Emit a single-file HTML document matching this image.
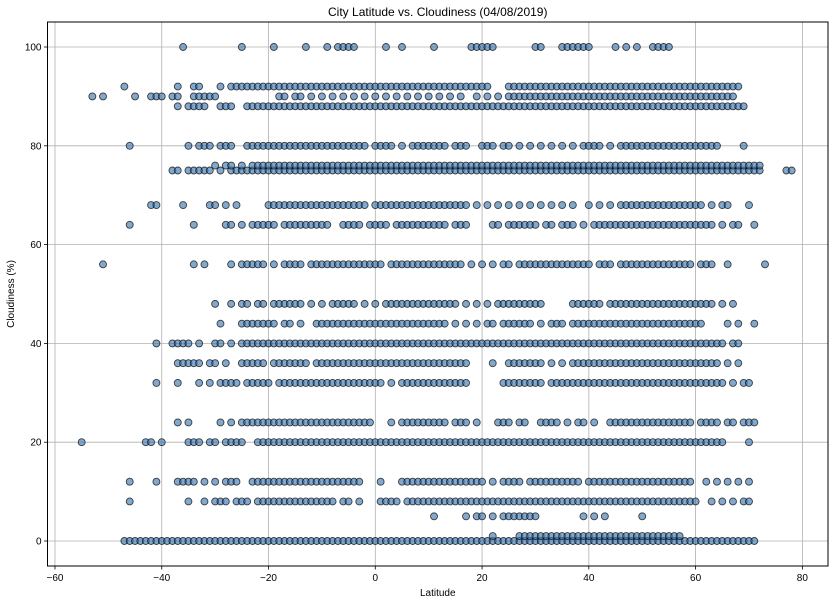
<!DOCTYPE html>
<html><head><meta charset="utf-8"><style>
html,body{margin:0;padding:0;background:#fff;}
svg{display:block;font-family:"Liberation Sans","DejaVu Sans",sans-serif;}
</style></head><body>
<svg id="chart" width="838" height="604" viewBox="0 0 838 604"></svg>
<script>
const cloudLevels = [0,1,5,8,12,20,24,32,36,40,44,48,56,64,68,75,76,80,88,90,92,100];
const latsByLevel = [
[-47,-46,-45,-44,-43,-42,-41,-40,-39,-38,-37,-36,-35,-34,-33,-32,-31,-30,-29,-28,-27,-26,-25,-24,-23,-22,-21,-20,-19,-18,-17,-16,-15,-14,-13,-12,-11,-10,-9,-8,-7,-6,-5,-4,-3,-2,-1,0,1,2,3,4,5,6,7,8,9,10,11,12,13,14,15,16,17,18,19,20,21,22,23,24,25,26,27,28,29,30,31,32,33,34,35,36,37,38,39,40,41,42,43,44,45,46,47,48,49,50,51,52,53,54,55,56,57,58,59,60,61,62,63,64,65,66,67,68,69,70,71],
[22,27,28,29,30,31,32,33,34,35,36,37,38,39,40,41,42,43,44,45,46,47,48,49,50,51,52,53,54,55,56,57],
[11,17,19,20,22,24,25,26,27,28,29,30,39,41,43,50],
[-46,-35,-32,-30,-29,-28,-26,-25,-24,-22,-21,-20,-19,-18,-17,-16,-15,-14,-13,-12,-11,-10,-9,-8,-6,-5,-3,1,2,3,4,6,7,8,9,10,11,12,13,14,15,16,17,18,19,20,21,22,23,24,25,26,27,28,29,30,31,32,33,34,35,36,37,38,39,40,41,42,43,44,45,46,47,48,49,50,51,52,53,54,55,56,57,58,59,60,63,65,67,69,70],
[-46,-41,-37,-36,-35,-34,-32,-30,-28,-27,-26,-23,-22,-21,-20,-19,-18,-17,-16,-15,-14,-13,-12,-11,-10,-9,-8,-7,-6,-5,-4,-3,1,5,6,7,8,9,10,11,12,13,14,15,16,17,18,19,20,22,24,25,26,27,29,30,31,32,33,34,35,36,37,38,40,41,42,43,44,45,46,47,48,49,50,51,52,53,54,55,56,57,58,59,62,64,66,68,70],
[-55,-43,-42,-40,-35,-34,-33,-31,-30,-28,-27,-26,-25,-22,-21,-20,-19,-18,-17,-16,-15,-14,-13,-12,-11,-10,-9,-8,-7,-6,-5,-4,-3,-2,-1,0,1,2,3,4,5,6,7,8,9,10,11,12,13,14,15,16,17,18,19,20,21,22,23,24,25,26,27,28,29,30,31,32,33,34,35,36,37,38,39,40,41,42,43,44,45,46,47,48,49,50,51,52,53,54,55,56,57,58,59,60,61,62,63,64,65,70],
[-37,-35,-29,-27,-25,-24,-23,-22,-21,-20,-19,-18,-17,-16,-15,-14,-13,-12,-11,-10,-9,-8,-7,-6,-5,-4,-3,-2,-1,3,5,6,7,8,9,10,11,12,13,15,16,17,19,23,24,25,27,28,31,32,33,34,36,38,39,41,44,45,46,47,48,49,50,51,52,53,54,55,56,57,58,59,61,62,63,64,66,67,69,70,71],
[-41,-37,-33,-31,-29,-28,-27,-26,-24,-23,-22,-21,-20,-18,-17,-16,-15,-14,-13,-12,-11,-10,-9,-8,-7,-6,-5,-4,-3,-2,-1,0,1,3,5,6,7,8,9,10,11,12,13,14,15,16,17,24,25,26,27,28,29,30,31,33,34,35,36,37,38,39,40,41,42,43,44,45,46,47,48,49,50,51,52,53,54,55,56,57,58,59,60,61,62,63,64,65,67,69,70],
[-37,-36,-35,-34,-33,-31,-30,-28,-25,-24,-23,-22,-21,-19,-18,-17,-16,-15,-14,-13,-11,-10,-9,-8,-7,-6,-5,-4,-3,-2,-1,0,1,2,3,4,5,6,7,8,9,10,11,12,13,14,15,16,17,22,25,26,27,28,29,30,31,33,35,37,38,39,40,41,42,43,44,45,46,47,48,49,50,51,52,53,54,55,56,57,58,59,60,61,62,63,64,66,68],
[-41,-38,-37,-36,-35,-33,-30,-29,-27,-25,-24,-23,-22,-21,-20,-19,-18,-17,-16,-15,-14,-13,-12,-11,-10,-9,-8,-7,-6,-5,-4,-3,-2,-1,0,1,2,3,4,5,6,7,8,9,10,11,12,13,14,15,16,17,18,19,20,21,22,23,24,25,26,27,28,29,30,31,32,33,34,35,36,37,38,39,40,41,42,43,44,45,46,47,48,49,50,51,52,53,54,55,56,57,58,59,60,61,62,63,64,65,67,68],
[-29,-25,-24,-23,-22,-21,-20,-19,-17,-16,-14,-11,-10,-9,-8,-7,-6,-5,-4,-3,-2,-1,0,1,2,3,4,5,6,7,8,9,10,11,12,13,15,17,19,21,22,24,25,26,27,28,29,31,33,34,35,37,38,39,40,41,42,43,44,45,46,47,48,49,50,51,52,53,54,55,56,57,58,59,60,61,66,68,71],
[-30,-27,-25,-24,-22,-21,-19,-18,-17,-16,-15,-14,-12,-10,-8,-7,-6,-5,-4,-2,0,2,3,4,5,6,7,8,9,10,11,12,13,14,15,17,19,21,23,24,25,26,27,28,29,30,31,37,38,39,40,41,42,44,45,46,47,48,49,50,51,52,53,54,55,56,57,58,59,60,61,62,63,65,67],
[-51,-34,-32,-27,-25,-24,-23,-22,-21,-19,-17,-16,-15,-14,-12,-11,-10,-9,-8,-7,-6,-5,-4,-3,-2,-1,0,1,3,4,5,6,7,8,9,10,11,12,13,14,15,16,18,20,22,24,25,27,28,29,30,31,32,33,34,35,36,37,38,39,40,42,43,44,46,47,48,49,50,51,52,53,54,55,56,57,58,59,61,62,63,66,73],
[-46,-34,-28,-27,-25,-23,-22,-21,-20,-19,-17,-16,-15,-14,-13,-12,-11,-10,-9,-6,-5,-4,-3,-1,0,1,2,4,5,6,7,8,9,10,11,12,13,15,16,17,22,23,25,26,27,28,29,30,32,33,35,36,37,39,41,42,43,44,45,46,47,48,49,50,51,52,53,54,55,56,57,58,59,60,61,62,63,65,67,68,71],
[-42,-41,-36,-31,-30,-28,-26,-20,-19,-18,-17,-16,-15,-14,-13,-12,-11,-10,-9,-8,-7,-6,-5,-4,-3,-2,0,1,2,3,4,5,6,7,8,9,10,11,12,13,14,15,16,17,19,21,23,25,27,29,31,33,35,37,40,42,44,46,47,48,49,50,51,52,53,54,55,56,57,58,59,60,61,63,65,66,70],
[-38,-37,-35,-34,-33,-32,-31,-29,-27,-26,-25,-24,-23,-22,-21,-20,-19,-18,-17,-16,-15,-14,-13,-12,-11,-10,-9,-8,-7,-6,-5,-4,-3,-2,-1,0,1,2,3,4,5,6,7,8,9,10,11,12,13,14,15,16,17,18,19,20,21,22,23,24,25,26,27,28,29,30,31,32,33,34,35,36,37,38,39,40,41,42,43,44,45,46,47,48,49,50,51,52,53,54,55,56,57,58,59,60,61,62,63,64,65,66,67,68,69,70,71,72,77,78],
[-30,-28,-27,-25,-23,-22,-21,-20,-19,-18,-17,-16,-15,-14,-13,-12,-11,-10,-9,-8,-7,-6,-5,-4,-3,-2,-1,0,1,2,3,4,5,6,7,8,9,10,11,12,13,14,15,16,17,18,19,20,21,22,23,24,25,26,27,28,29,30,31,32,33,34,35,36,37,38,39,40,41,42,43,44,45,46,47,48,49,50,51,52,53,54,55,56,57,58,59,60,61,62,63,64,65,66,67,68,69,70,71,72],
[-46,-35,-33,-32,-31,-29,-28,-27,-24,-23,-22,-21,-20,-19,-18,-17,-16,-15,-14,-13,-12,-11,-10,-9,-8,-7,-6,-5,-4,-3,-2,0,1,2,3,5,7,8,9,10,11,12,13,15,16,17,20,21,22,24,25,27,29,31,33,35,37,39,40,41,42,44,46,47,48,49,50,51,52,53,54,55,56,57,58,59,60,61,62,63,64,69],
[-37,-35,-34,-33,-32,-29,-28,-27,-24,-23,-22,-21,-20,-19,-18,-17,-16,-15,-14,-13,-12,-11,-10,-9,-8,-7,-6,-5,-4,-3,-2,-1,0,1,2,3,4,5,6,7,8,9,10,11,12,13,14,15,16,17,18,19,20,21,22,23,24,25,26,27,28,29,30,31,32,33,34,35,36,37,38,39,40,41,42,43,44,45,46,47,48,49,50,51,52,53,54,55,56,57,58,59,60,61,62,63,64,65,66,67,68,69],
[-53,-51,-45,-42,-41,-40,-38,-37,-34,-33,-32,-31,-30,-18,-17,-15,-14,-12,-10,-8,-6,-4,-2,0,2,4,6,8,10,12,14,16,19,21,23,25,26,27,28,29,30,31,32,33,34,35,36,37,38,39,40,41,42,43,44,45,46,47,48,49,50,51,52,53,54,55,56,57,58,59,60,61,62,63,64,65,66,67],
[-47,-37,-34,-33,-29,-27,-26,-25,-24,-23,-22,-21,-20,-19,-18,-17,-16,-15,-14,-13,-12,-11,-10,-9,-8,-7,-6,-5,-4,-3,-2,-1,0,1,2,3,4,5,6,7,8,9,10,11,12,13,14,15,16,17,18,19,20,21,25,26,27,28,29,30,31,32,33,34,35,36,37,38,39,40,41,42,43,44,45,46,47,48,49,50,51,52,53,54,55,56,57,58,59,60,61,62,63,64,65,66,67,68],
[-36,-25,-19,-13,-9,-7,-6,-5,-4,2,5,11,18,19,20,21,22,30,31,35,36,37,38,39,40,45,47,49,52,53,54,55]
];
const xTicks = [-60,-40,-20,0,20,40,60,80];
const yTicks = [0,20,40,60,80,100];

const NS = "http://www.w3.org/2000/svg";
const svg = document.getElementById('chart');
const L=47.5, R=828, T=22, B=566;
const xMin=-61.4, xMax=84.8, yMin=-5.06, yMax=105.06;
function xs(v){return L+(v-xMin)/(xMax-xMin)*(R-L);}
function ys(v){return B-(v-yMin)/(yMax-yMin)*(B-T);}
function mk(tag, attrs){const e=document.createElementNS(NS,tag);for(const k in attrs)e.setAttribute(k,attrs[k]);svg.appendChild(e);return e;}

xTicks.forEach(t=>{
  const g=mk('line',{x1:xs(t),x2:xs(t),y1:T,y2:B,stroke:'#b0b0b0','stroke-width':0.8});
  
  
});
yTicks.forEach(t=>{
  const g=mk('line',{x1:L,x2:R,y1:ys(t),y2:ys(t),stroke:'#b0b0b0','stroke-width':0.8});
  
  
});
cloudLevels.forEach((lvl,i)=>{
  latsByLevel[i].forEach(lat=>{
    const c=mk('circle',{cx:xs(lat),cy:ys(lvl),r:3.5,fill:'rgba(55,115,175,0.62)',stroke:'rgba(0,0,0,0.7)','stroke-width':0.9});
    
    
  });
});
const fr=mk('rect',{x:L,y:T,width:R-L,height:B-T,fill:'none',stroke:'#000','stroke-width':1});


xTicks.forEach(t=>{
  mk('line',{x1:xs(t),x2:xs(t),y1:B,y2:B+3.5,stroke:'#000','stroke-width':0.8});
  const tx=mk('text',{x:xs(t),y:B+15,'text-anchor':'middle','font-size':10,fill:'#000'});
  tx.textContent=(t<0?'\u2212'+(-t):t);
  
  
});
yTicks.forEach(t=>{
  mk('line',{x1:L-3.5,x2:L,y1:ys(t),y2:ys(t),stroke:'#000','stroke-width':0.8});
  const tx=mk('text',{x:L-6,y:ys(t)+3.5,'text-anchor':'end','font-size':10,fill:'#000'});
  tx.textContent=t;
  
  
});
const title=mk('text',{x:(L+R)/2,y:16,'text-anchor':'middle','font-size':12,fill:'#000'});
title.textContent='City Latitude vs. Cloudiness (04/08/2019)';


const xl=mk('text',{x:(L+R)/2,y:596,'text-anchor':'middle','font-size':10,fill:'#000'});
xl.textContent='Latitude';


const yl=mk('text',{x:0,y:0,'text-anchor':'middle','font-size':10,fill:'#000',transform:'translate(14,'+((T+B)/2)+') rotate(-90)'});
yl.textContent='Cloudiness (%)';


</script>
</body></html>
